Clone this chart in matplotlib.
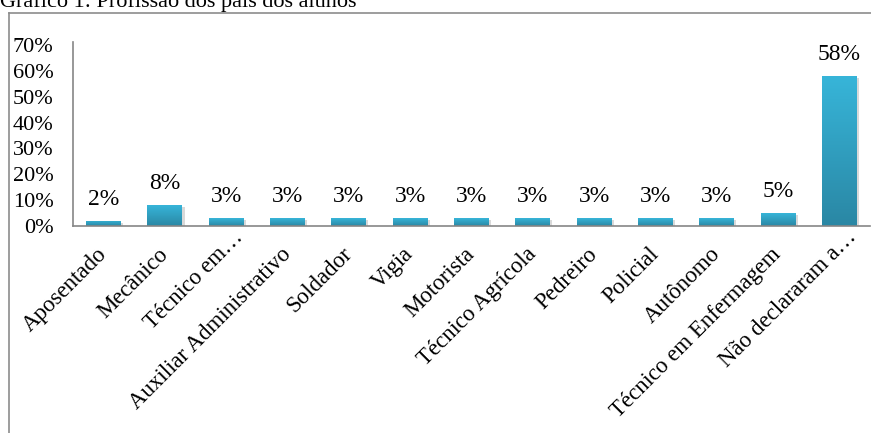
import numpy as np
import matplotlib
matplotlib.use("Agg")
import matplotlib.pyplot as plt
import matplotlib.ticker as mticker
import matplotlib.transforms as mtransforms
import matplotlib.patheffects as pe
from matplotlib.colors import LinearSegmentedColormap
from matplotlib.lines import Line2D

# Profissão dos pais (percentual de alunos)
profissoes = [
    "Aposentado", "Mecânico", "Técnico em…", "Auxiliar Administrativo",
    "Soldador", "Vigia", "Motorista", "Técnico Agrícola", "Pedreiro",
    "Policial", "Autônomo", "Técnico em Enfermagem", "Não declararam a…",
]
percentuais = [2, 8, 3, 3, 3, 3, 3, 3, 3, 3, 3, 5, 58]
y_ticks = [0, 10, 20, 30, 40, 50, 60, 70]

plt.rcParams["font.family"] = ["Liberation Serif", "DejaVu Serif"]

W, H = 871, 433
fig = plt.figure(figsize=(W / 100, H / 100), dpi=100)
ax = fig.add_axes([73 / W, 1 - 226 / H, (870 - 73) / W, (226 - 45) / H])

x = np.arange(len(profissoes))
bars = ax.bar(x, percentuais, width=0.57, color="#31a6c8", zorder=2,
              path_effects=[pe.SimplePatchShadow(offset=(1.5, -1.5), alpha=0.22,
                                                 shadow_rgbFace="#555555"),
                            pe.Normal()])

# vertical gradient inside every bar
grad_cmap = LinearSegmentedColormap.from_list("barra", ["#2a87a4", "#37b5d9"])
grad = np.linspace(0, 1, 256).reshape(-1, 1)
for b in bars:
    x0, w, h = b.get_x(), b.get_width(), b.get_height()
    im = ax.imshow(grad, extent=[x0, x0 + w, 0, h], origin="lower",
                   aspect="auto", cmap=grad_cmap, zorder=2.1)
    im.set_clip_path(b)

ax.set_xlim(-0.5, len(profissoes) - 0.5)
ax.set_ylim(0, 70)
ax.set_yticks(y_ticks)
ax.yaxis.set_major_formatter(mticker.FuncFormatter(lambda v, p: f"{v:.0f}%"))
ax.tick_params(axis="y", length=0, pad=14, labelsize=16)

ax.set_xticks(x)
ax.set_xticklabels(profissoes, rotation=45, ha="right", va="center",
                   rotation_mode="anchor", fontsize=16.5)
ax.tick_params(axis="x", length=0, pad=18)
shift = mtransforms.ScaledTranslation(10 / 72, 12 / 72, fig.dpi_scale_trans)
for lbl in ax.get_xticklabels():
    if lbl.get_text().endswith("…"):
        lbl.set_transform(lbl.get_transform() + shift)

ax.bar_label(bars, labels=[f"{v}%" for v in percentuais], padding=8, fontsize=17)

for side in ("top", "right"):
    ax.spines[side].set_visible(False)
for side in ("left", "bottom"):
    ax.spines[side].set_color("#868686")
    ax.spines[side].set_linewidth(1.2)
ax.spines["left"].set_bounds(0, 71)

# outer frame of the chart area
frame_kw = dict(color="#8c8c8c", linewidth=1.2, transform=fig.transFigure)
fig.add_artist(Line2D([9 / W, 9 / W], [0, 1 - 13 / H], **frame_kw))
fig.add_artist(Line2D([9 / W, 1], [1 - 13 / H, 1 - 13 / H], **frame_kw))

fig.text(0, 1 - 7 / H, "Gráfico 1: Profissão dos pais dos alunos",
         ha="left", va="baseline", fontsize=16)

fig.savefig("out.png", dpi=100)
